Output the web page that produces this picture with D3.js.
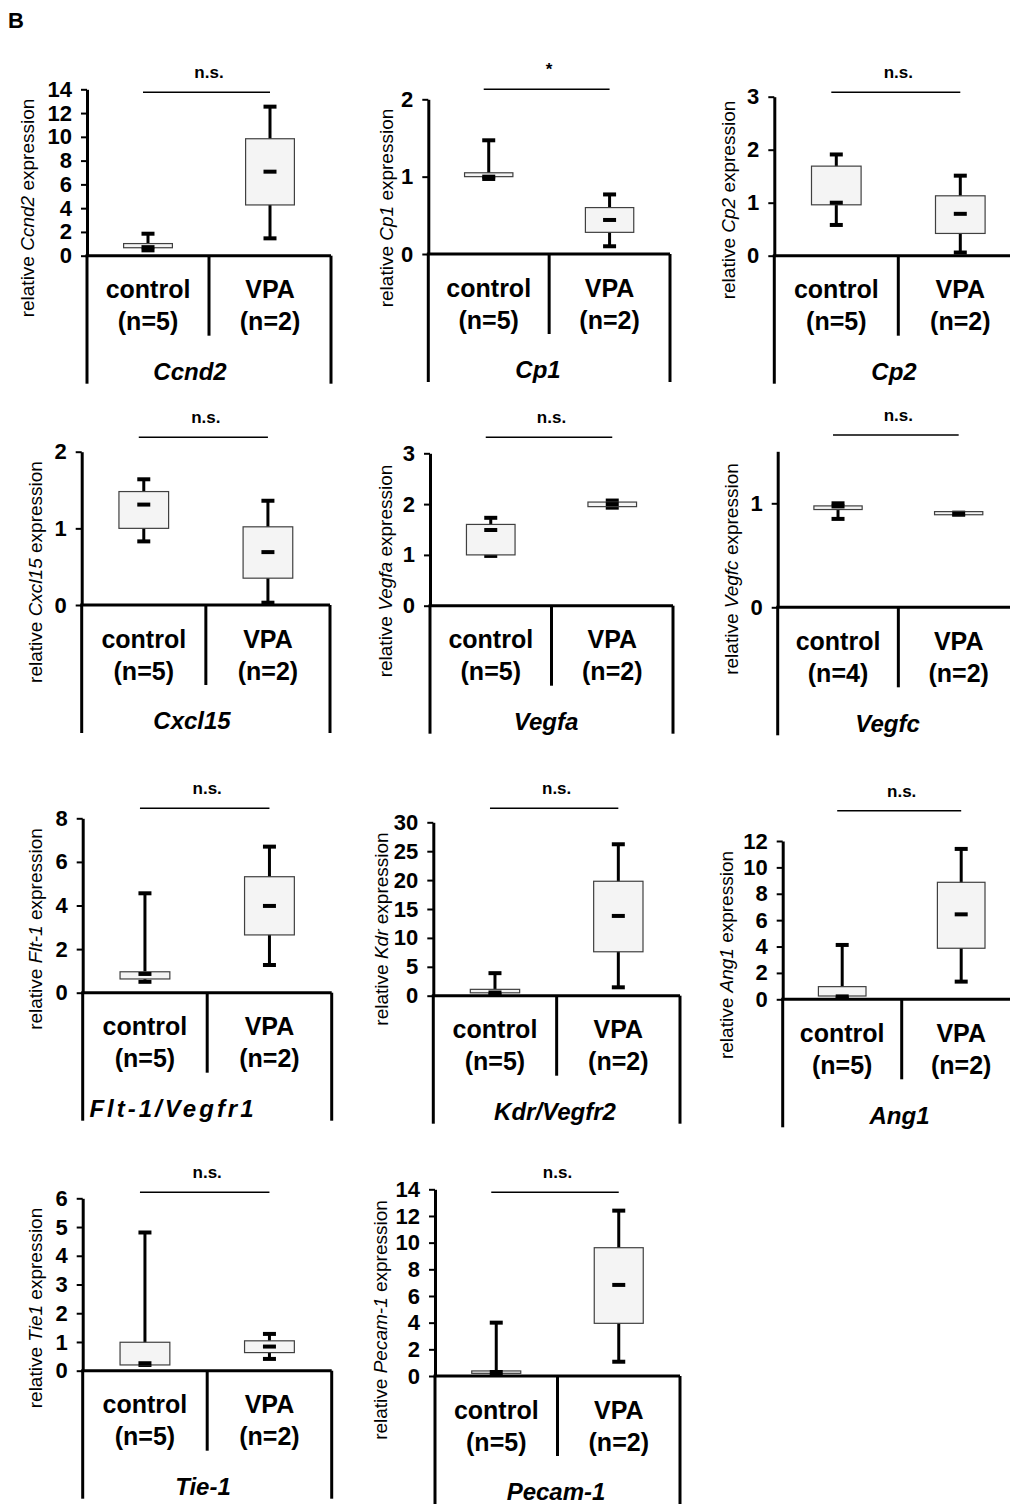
<!DOCTYPE html>
<html>
<head>
<meta charset="utf-8">
<script src="https://cdn.jsdelivr.net/npm/d3@7"></script>
<style>
  body { margin: 0; background: #fff; }
  text { font-family: "Liberation Sans", Arial, sans-serif; fill: #000; }
</style>
</head>
<body>
<svg id="chart" width="1010" height="1504"></svg>
<script>
// ---- data ----
var genes = ["Ccnd2", "Cp1", "Cp2", "Cxcl15", "Vegfa", "Vegfc", "Flt-1/Vegfr1", "Kdr/Vegfr2", "Ang1", "Tie-1", "Pecam-1"];
var axisGenes = ["Ccnd2", "Cp1", "Cp2", "Cxcl15", "Vegfa", "Vegfc", "Flt-1", "Kdr", "Ang1", "Tie1", "Pecam-1"];
var groups = ["control", "VPA"];
var nControl = [5, 5, 5, 5, 5, 4, 5, 5, 5, 5, 5];
var nVPA = [2, 2, 2, 2, 2, 2, 2, 2, 2, 2, 2];
var signif = ["n.s.", "*", "n.s.", "n.s.", "n.s.", "n.s.", "n.s.", "n.s.", "n.s.", "n.s.", "n.s."];
var yMaxes = [14, 2, 3, 2, 3, 1.5, 8, 30, 12, 6, 14];
var tickSteps = [2, 1, 1, 1, 1, 1, 2, 5, 2, 1, 2];

// [min, q1, median, q3, max]
var controlStats = [
  [0.45, 0.67, 0.72, 1.02, 1.85],
  [0.97, 1.00, 1.00, 1.05, 1.47],
  [0.58, 0.96, 1.00, 1.69, 1.91],
  [0.83, 1.00, 1.31, 1.48, 1.64],
  [0.98, 1.00, 1.49, 1.60, 1.73],
  [0.85, 0.94, 0.97, 0.975, 1.00],
  [0.50, 0.63, 0.86, 0.96, 4.56],
  [0.30, 0.50, 0.55, 1.10, 3.90],
  [0.15, 0.25, 0.22, 0.96, 4.12],
  [0.20, 0.20, 0.26, 0.99, 4.81],
  [0.20, 0.20, 0.30, 0.38, 4.00]
];
var vpaStats = [
  [1.46, 4.27, 7.07, 9.84, 12.54],
  [0.10, 0.28, 0.44, 0.60, 0.77],
  [0.06, 0.42, 0.79, 1.13, 1.51],
  [0.03, 0.35, 0.69, 1.02, 1.36],
  [1.93, 1.95, 2.00, 2.04, 2.07],
  [0.89, 0.89, 0.90, 0.92, 0.91],
  [1.27, 2.65, 3.98, 5.32, 6.70],
  [1.45, 7.60, 13.8, 19.8, 26.2],
  [1.34, 3.87, 6.44, 8.87, 11.4],
  [0.41, 0.63, 0.84, 1.04, 1.28],
  [1.07, 3.95, 6.83, 9.62, 12.4]
];

// ---- panel placement ----
var layout = [
  {x0: 87,    x1: 331,    yTop: 89.3,   yZero: 255.7,  barY: 92.3,   labX: 27,    labY: 208,  gx: 190},
  {x0: 428.3, x1: 670,    yTop: 99.3,   yZero: 254,    barY: 89.3,   labX: 386.7, labY: 208,  gx: 538},
  {x0: 774.3, x1: 1022.3, yTop: 96.7,   yZero: 255.7,  barY: 92.3,   labX: 728.3, labY: 200,  gx: 894},
  {x0: 81.7,  x1: 330,    yTop: 451.7,  yZero: 605,    barY: 437.3,  labX: 35,    labY: 572,  gx: 192},
  {x0: 430,   x1: 673,    yTop: 453.3,  yZero: 605.7,  barY: 437.3,  labX: 385,   labY: 571,  gx: 546},
  {x0: 777.7, x1: 1019,   yTop: 451.3,  yZero: 607.3,  barY: 435,    labX: 731.7, labY: 569,  gx: 887.5},
  {x0: 82.7,  x1: 331.7,  yTop: 818.3,  yZero: 992.7,  barY: 808.3,  labX: 35,    labY: 929,  gx: 173, spacing: 3},
  {x0: 433.3, x1: 680,    yTop: 822.3,  yZero: 995.7,  barY: 808.3,  labX: 381.7, labY: 929,  gx: 555},
  {x0: 782.7, x1: 1020.7, yTop: 841,    yZero: 999.3,  barY: 810.7,  labX: 726.7, labY: 955,  gx: 899.5},
  {x0: 82.7,  x1: 331.7,  yTop: 1198.3, yZero: 1370.7, barY: 1192.3, labX: 35,    labY: 1308, gx: 203},
  {x0: 435,   x1: 680,    yTop: 1189.3, yZero: 1376,   barY: 1192.3, labX: 380,   labY: 1320, gx: 556}
];

var svg = d3.select("#chart");

svg.append("text")
  .attr("x", 8).attr("y", 28)
  .style("font-size", "22px").style("font-weight", "bold")
  .text("B");

function drawPanel(i) {
  var L = layout[i];
  var g = svg.append("g");

  var x = d3.scaleBand().domain(groups).range([L.x0, L.x1]);
  var y = d3.scaleLinear().domain([0, yMaxes[i]]).range([L.yZero, L.yTop]);
  var ticks = d3.range(0, yMaxes[i] + 1e-9, tickSteps[i]);

  // y axis
  var ax = g.append("g")
    .attr("transform", "translate(" + L.x0 + ",0)")
    .call(d3.axisLeft(y).tickValues(ticks).tickSize(6).tickPadding(9).tickSizeOuter(0)
      .tickFormat(d3.format("d")));
  ax.select(".domain").attr("stroke", "#000").attr("stroke-width", 3);
  ax.selectAll(".tick line").attr("stroke", "#000").attr("stroke-width", 2);
  ax.selectAll(".tick text")
    .attr("fill", "#000")
    .style("font-size", "22px").style("font-weight", "bold")
    .style("font-family", "'Liberation Sans', Arial, sans-serif");

  // baseline + category grid
  var bottomDiv = L.yZero + 80, bottomOuter = L.yZero + 128;
  g.append("line").attr("x1", L.x0 - 1.5).attr("x2", L.x1).attr("y1", L.yZero).attr("y2", L.yZero)
    .attr("stroke", "#000").attr("stroke-width", 3);
  g.append("line").attr("x1", x("VPA")).attr("x2", x("VPA")).attr("y1", L.yZero).attr("y2", bottomDiv)
    .attr("stroke", "#000").attr("stroke-width", 3);
  [L.x0, L.x1].forEach(function(xx) {
    g.append("line").attr("x1", xx).attr("x2", xx).attr("y1", L.yZero).attr("y2", bottomOuter)
      .attr("stroke", "#000").attr("stroke-width", 3);
  });

  // category labels
  var nn = [nControl[i], nVPA[i]];
  groups.forEach(function(grp, k) {
    var cx = x(grp) + x.bandwidth() / 2;
    g.append("text").attr("x", cx).attr("y", L.yZero + 34).attr("dy", "0.35em")
      .attr("text-anchor", "middle")
      .style("font-size", "25px").style("font-weight", "bold")
      .text(grp);
    g.append("text").attr("x", cx).attr("y", L.yZero + 66).attr("dy", "0.35em")
      .attr("text-anchor", "middle")
      .style("font-size", "25px").style("font-weight", "bold")
      .text("(n=" + nn[k] + ")");
  });

  // gene label
  g.append("text").attr("x", L.gx).attr("y", L.yZero + 116).attr("dy", "0.35em")
    .attr("text-anchor", "middle")
    .style("font-size", "24px").style("font-weight", "bold").style("font-style", "italic")
    .style("letter-spacing", (L.spacing || 0) + "px")
    .text(genes[i]);

  // y label
  var yl = g.append("text")
    .attr("transform", "translate(" + L.labX + "," + L.labY + ") rotate(-90)")
    .attr("text-anchor", "middle").attr("dy", "0.35em")
    .style("font-size", "19px");
  yl.append("tspan").text("relative ");
  yl.append("tspan").style("font-style", "italic").text(axisGenes[i]);
  yl.append("tspan").text(" expression");

  // significance bar
  var c0 = x("control") + x.bandwidth() / 2, c1 = x("VPA") + x.bandwidth() / 2;
  g.append("line").attr("x1", c0 - 5).attr("x2", c1).attr("y1", L.barY).attr("y2", L.barY)
    .attr("stroke", "#000").attr("stroke-width", 1.5);
  g.append("text").attr("x", (c0 + c1) / 2).attr("y", L.barY - 20).attr("dy", "0.35em")
    .attr("text-anchor", "middle")
    .style("font-size", "17px").style("font-weight", "bold")
    .text(signif[i]);

  // boxes
  var stats = [controlStats[i], vpaStats[i]];
  var bw = x.bandwidth() * 0.4;
  groups.forEach(function(grp, k) {
    var s = stats[k];
    var cx = x(grp) + x.bandwidth() / 2;
    g.append("line").attr("x1", cx).attr("x2", cx).attr("y1", y(s[0])).attr("y2", y(s[4]))
      .attr("stroke", "#000").attr("stroke-width", 3);
    [s[0], s[4]].forEach(function(v) {
      g.append("line").attr("x1", cx - 6.5).attr("x2", cx + 6.5).attr("y1", y(v)).attr("y2", y(v))
        .attr("stroke", "#000").attr("stroke-width", 4);
    });
    g.append("rect")
      .attr("x", cx - bw / 2).attr("width", bw)
      .attr("y", y(s[3])).attr("height", Math.max(1, y(s[1]) - y(s[3])))
      .attr("fill", "#f4f4f4").attr("stroke", "#404040").attr("stroke-width", 1.2);
    g.append("line").attr("x1", cx - 6.5).attr("x2", cx + 6.5).attr("y1", y(s[2])).attr("y2", y(s[2]))
      .attr("stroke", "#000").attr("stroke-width", 4);
  });
}

for (var i = 0; i < genes.length; i++) drawPanel(i);
</script>
</body>
</html>
